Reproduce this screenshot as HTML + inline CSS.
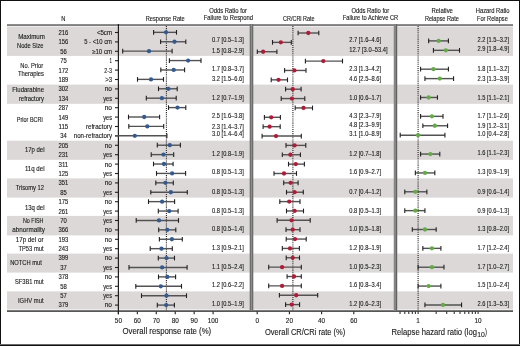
<!DOCTYPE html>
<html><head><meta charset="utf-8"><style>
html,body{margin:0;padding:0;background:#fff;}
body{width:520px;height:346px;overflow:hidden;position:relative;}
svg{position:absolute;left:0;top:0;}
text{font-family:"Liberation Sans",sans-serif;stroke:#1a1a1a;stroke-width:0.12px;}
svg{will-change:transform;}
.frame{position:absolute;left:0;top:0;width:520px;height:346px;box-sizing:border-box;border-style:solid;border-color:#111;border-width:1px 1px 1px 1px;}
</style></head><body>
<svg width="520" height="346" viewBox="0 0 520 346" font-family="Liberation Sans, sans-serif">
<rect width="520" height="346" fill="#fff"/>
<rect x="7.00" y="26.50" width="506.00" height="29.40" fill="#dcd8d8"/>
<rect x="7.00" y="84.60" width="506.00" height="19.20" fill="#dcd8d8"/>
<rect x="7.00" y="140.70" width="506.00" height="19.10" fill="#dcd8d8"/>
<rect x="7.00" y="178.40" width="506.00" height="19.20" fill="#dcd8d8"/>
<rect x="7.00" y="215.90" width="506.00" height="19.50" fill="#dcd8d8"/>
<rect x="7.00" y="253.60" width="506.00" height="19.00" fill="#dcd8d8"/>
<rect x="7.00" y="291.40" width="506.00" height="18.10" fill="#dcd8d8"/>
<rect x="7.00" y="24.20" width="506.00" height="1.70" fill="#707070"/>
<rect x="7.00" y="310.30" width="506.00" height="1.60" fill="#454545"/>
<line x1="118.40" y1="24.00" x2="118.40" y2="314.20" stroke="#231f20" stroke-width="1.2" />
<line x1="115.00" y1="32.50" x2="118.40" y2="32.50" stroke="#231f20" stroke-width="1.1" />
<line x1="115.00" y1="41.90" x2="118.40" y2="41.90" stroke="#231f20" stroke-width="1.1" />
<line x1="115.00" y1="51.30" x2="118.40" y2="51.30" stroke="#231f20" stroke-width="1.1" />
<line x1="115.00" y1="60.70" x2="118.40" y2="60.70" stroke="#231f20" stroke-width="1.1" />
<line x1="115.00" y1="70.10" x2="118.40" y2="70.10" stroke="#231f20" stroke-width="1.1" />
<line x1="115.00" y1="79.50" x2="118.40" y2="79.50" stroke="#231f20" stroke-width="1.1" />
<line x1="115.00" y1="88.90" x2="118.40" y2="88.90" stroke="#231f20" stroke-width="1.1" />
<line x1="115.00" y1="98.30" x2="118.40" y2="98.30" stroke="#231f20" stroke-width="1.1" />
<line x1="115.00" y1="107.70" x2="118.40" y2="107.70" stroke="#231f20" stroke-width="1.1" />
<line x1="115.00" y1="117.10" x2="118.40" y2="117.10" stroke="#231f20" stroke-width="1.1" />
<line x1="115.00" y1="126.50" x2="118.40" y2="126.50" stroke="#231f20" stroke-width="1.1" />
<line x1="115.00" y1="135.90" x2="118.40" y2="135.90" stroke="#231f20" stroke-width="1.1" />
<line x1="115.00" y1="145.30" x2="118.40" y2="145.30" stroke="#231f20" stroke-width="1.1" />
<line x1="115.00" y1="154.70" x2="118.40" y2="154.70" stroke="#231f20" stroke-width="1.1" />
<line x1="115.00" y1="164.10" x2="118.40" y2="164.10" stroke="#231f20" stroke-width="1.1" />
<line x1="115.00" y1="173.50" x2="118.40" y2="173.50" stroke="#231f20" stroke-width="1.1" />
<line x1="115.00" y1="182.90" x2="118.40" y2="182.90" stroke="#231f20" stroke-width="1.1" />
<line x1="115.00" y1="192.30" x2="118.40" y2="192.30" stroke="#231f20" stroke-width="1.1" />
<line x1="115.00" y1="201.70" x2="118.40" y2="201.70" stroke="#231f20" stroke-width="1.1" />
<line x1="115.00" y1="211.10" x2="118.40" y2="211.10" stroke="#231f20" stroke-width="1.1" />
<line x1="115.00" y1="220.50" x2="118.40" y2="220.50" stroke="#231f20" stroke-width="1.1" />
<line x1="115.00" y1="229.90" x2="118.40" y2="229.90" stroke="#231f20" stroke-width="1.1" />
<line x1="115.00" y1="239.30" x2="118.40" y2="239.30" stroke="#231f20" stroke-width="1.1" />
<line x1="115.00" y1="248.70" x2="118.40" y2="248.70" stroke="#231f20" stroke-width="1.1" />
<line x1="115.00" y1="258.10" x2="118.40" y2="258.10" stroke="#231f20" stroke-width="1.1" />
<line x1="115.00" y1="267.50" x2="118.40" y2="267.50" stroke="#231f20" stroke-width="1.1" />
<line x1="115.00" y1="276.90" x2="118.40" y2="276.90" stroke="#231f20" stroke-width="1.1" />
<line x1="115.00" y1="286.30" x2="118.40" y2="286.30" stroke="#231f20" stroke-width="1.1" />
<line x1="115.00" y1="295.70" x2="118.40" y2="295.70" stroke="#231f20" stroke-width="1.1" />
<line x1="115.00" y1="305.10" x2="118.40" y2="305.10" stroke="#231f20" stroke-width="1.1" />
<line x1="118.40" y1="311.50" x2="118.40" y2="314.20" stroke="#231f20" stroke-width="1.1" />
<text x="118.40" y="322.80" font-size="6.4" text-anchor="middle" fill="#1a1a1a">50</text>
<line x1="137.34" y1="311.50" x2="137.34" y2="314.20" stroke="#231f20" stroke-width="1.1" />
<text x="137.34" y="322.80" font-size="6.4" text-anchor="middle" fill="#1a1a1a">60</text>
<line x1="156.28" y1="311.50" x2="156.28" y2="314.20" stroke="#231f20" stroke-width="1.1" />
<text x="156.28" y="322.80" font-size="6.4" text-anchor="middle" fill="#1a1a1a">70</text>
<line x1="175.22" y1="311.50" x2="175.22" y2="314.20" stroke="#231f20" stroke-width="1.1" />
<text x="175.22" y="322.80" font-size="6.4" text-anchor="middle" fill="#1a1a1a">80</text>
<line x1="194.16" y1="311.50" x2="194.16" y2="314.20" stroke="#231f20" stroke-width="1.1" />
<text x="194.16" y="322.80" font-size="6.4" text-anchor="middle" fill="#1a1a1a">90</text>
<line x1="213.10" y1="311.50" x2="213.10" y2="314.20" stroke="#231f20" stroke-width="1.1" />
<text x="213.10" y="322.80" font-size="6.4" text-anchor="middle" fill="#1a1a1a">100</text>
<line x1="257.20" y1="311.50" x2="257.20" y2="314.20" stroke="#231f20" stroke-width="1.1" />
<text x="257.20" y="322.80" font-size="6.4" text-anchor="middle" fill="#1a1a1a">0</text>
<line x1="289.40" y1="311.50" x2="289.40" y2="314.20" stroke="#231f20" stroke-width="1.1" />
<text x="289.40" y="322.80" font-size="6.4" text-anchor="middle" fill="#1a1a1a">20</text>
<line x1="321.60" y1="311.50" x2="321.60" y2="314.20" stroke="#231f20" stroke-width="1.1" />
<text x="321.60" y="322.80" font-size="6.4" text-anchor="middle" fill="#1a1a1a">40</text>
<line x1="353.80" y1="311.50" x2="353.80" y2="314.20" stroke="#231f20" stroke-width="1.1" />
<text x="353.80" y="322.80" font-size="6.4" text-anchor="middle" fill="#1a1a1a">60</text>
<line x1="400.04" y1="311.50" x2="400.04" y2="314.00" stroke="#231f20" stroke-width="1.0" />
<line x1="404.79" y1="311.50" x2="404.79" y2="314.00" stroke="#231f20" stroke-width="1.0" />
<line x1="408.81" y1="311.50" x2="408.81" y2="314.00" stroke="#231f20" stroke-width="1.0" />
<line x1="412.29" y1="311.50" x2="412.29" y2="314.00" stroke="#231f20" stroke-width="1.0" />
<line x1="415.35" y1="311.50" x2="415.35" y2="314.00" stroke="#231f20" stroke-width="1.0" />
<line x1="418.10" y1="311.50" x2="418.10" y2="314.00" stroke="#231f20" stroke-width="1.0" />
<line x1="436.16" y1="311.50" x2="436.16" y2="314.00" stroke="#231f20" stroke-width="1.0" />
<line x1="446.73" y1="311.50" x2="446.73" y2="314.00" stroke="#231f20" stroke-width="1.0" />
<line x1="454.22" y1="311.50" x2="454.22" y2="314.00" stroke="#231f20" stroke-width="1.0" />
<line x1="460.04" y1="311.50" x2="460.04" y2="314.00" stroke="#231f20" stroke-width="1.0" />
<line x1="464.79" y1="311.50" x2="464.79" y2="314.00" stroke="#231f20" stroke-width="1.0" />
<line x1="468.81" y1="311.50" x2="468.81" y2="314.00" stroke="#231f20" stroke-width="1.0" />
<line x1="472.29" y1="311.50" x2="472.29" y2="314.00" stroke="#231f20" stroke-width="1.0" />
<line x1="475.35" y1="311.50" x2="475.35" y2="314.00" stroke="#231f20" stroke-width="1.0" />
<line x1="478.10" y1="311.50" x2="478.10" y2="314.00" stroke="#231f20" stroke-width="1.0" />
<text x="418.10" y="322.80" font-size="6.4" text-anchor="middle" fill="#1a1a1a">1</text>
<text x="478.10" y="322.80" font-size="6.4" text-anchor="middle" fill="#1a1a1a">10</text>
<line x1="166.40" y1="26.00" x2="166.40" y2="310.20" stroke="#231f20" stroke-width="1.1" stroke-dasharray="1.05,1.05"/>
<line x1="292.90" y1="26.00" x2="292.90" y2="310.20" stroke="#231f20" stroke-width="1.1" stroke-dasharray="1.05,1.05"/>
<line x1="418.10" y1="26.00" x2="418.10" y2="310.20" stroke="#231f20" stroke-width="1.1" stroke-dasharray="1.05,1.05"/>
<rect x="249.70" y="24.20" width="3.60" height="286.80" fill="#6c6c6c"/>
<rect x="250.90" y="24.20" width="1.10" height="286.80" fill="#8c8c8c"/>
<rect x="393.75" y="24.20" width="3.55" height="286.80" fill="#858585"/>
<rect x="396.00" y="24.20" width="1.00" height="286.80" fill="#626262"/>
<line x1="153.60" y1="32.35" x2="176.50" y2="32.35" stroke="#525252" stroke-width="1.4" />
<line x1="153.60" y1="30.00" x2="153.60" y2="34.70" stroke="#231f20" stroke-width="1.1" />
<line x1="176.50" y1="30.00" x2="176.50" y2="34.70" stroke="#231f20" stroke-width="1.1" />
<circle cx="166.00" cy="32.35" r="2.15" fill="#345a90"/>
<line x1="160.60" y1="41.76" x2="185.80" y2="41.76" stroke="#525252" stroke-width="1.4" />
<line x1="160.60" y1="39.41" x2="160.60" y2="44.11" stroke="#231f20" stroke-width="1.1" />
<line x1="185.80" y1="39.41" x2="185.80" y2="44.11" stroke="#231f20" stroke-width="1.1" />
<circle cx="174.50" cy="41.76" r="2.15" fill="#345a90"/>
<line x1="122.70" y1="51.16" x2="172.10" y2="51.16" stroke="#525252" stroke-width="1.4" />
<line x1="122.70" y1="48.81" x2="122.70" y2="53.51" stroke="#231f20" stroke-width="1.1" />
<line x1="172.10" y1="48.81" x2="172.10" y2="53.51" stroke="#231f20" stroke-width="1.1" />
<circle cx="149.00" cy="51.16" r="2.15" fill="#345a90"/>
<line x1="169.40" y1="60.56" x2="201.00" y2="60.56" stroke="#525252" stroke-width="1.4" />
<line x1="169.40" y1="58.21" x2="169.40" y2="62.91" stroke="#231f20" stroke-width="1.1" />
<line x1="201.00" y1="58.21" x2="201.00" y2="62.91" stroke="#231f20" stroke-width="1.1" />
<circle cx="188.10" cy="60.56" r="2.15" fill="#345a90"/>
<line x1="160.80" y1="69.97" x2="184.60" y2="69.97" stroke="#525252" stroke-width="1.4" />
<line x1="160.80" y1="67.62" x2="160.80" y2="72.32" stroke="#231f20" stroke-width="1.1" />
<line x1="184.60" y1="67.62" x2="184.60" y2="72.32" stroke="#231f20" stroke-width="1.1" />
<circle cx="173.70" cy="69.97" r="2.15" fill="#345a90"/>
<line x1="137.50" y1="79.38" x2="163.50" y2="79.38" stroke="#525252" stroke-width="1.4" />
<line x1="137.50" y1="77.03" x2="137.50" y2="81.72" stroke="#231f20" stroke-width="1.1" />
<line x1="163.50" y1="77.03" x2="163.50" y2="81.72" stroke="#231f20" stroke-width="1.1" />
<circle cx="151.00" cy="79.38" r="2.15" fill="#345a90"/>
<line x1="158.50" y1="88.78" x2="177.20" y2="88.78" stroke="#525252" stroke-width="1.4" />
<line x1="158.50" y1="86.43" x2="158.50" y2="91.13" stroke="#231f20" stroke-width="1.1" />
<line x1="177.20" y1="86.43" x2="177.20" y2="91.13" stroke="#231f20" stroke-width="1.1" />
<circle cx="168.40" cy="88.78" r="2.15" fill="#345a90"/>
<line x1="146.30" y1="98.19" x2="176.20" y2="98.19" stroke="#525252" stroke-width="1.4" />
<line x1="146.30" y1="95.84" x2="146.30" y2="100.53" stroke="#231f20" stroke-width="1.1" />
<line x1="176.20" y1="95.84" x2="176.20" y2="100.53" stroke="#231f20" stroke-width="1.1" />
<circle cx="161.90" cy="98.19" r="2.15" fill="#345a90"/>
<line x1="168.50" y1="107.59" x2="185.80" y2="107.59" stroke="#525252" stroke-width="1.4" />
<line x1="168.50" y1="105.24" x2="168.50" y2="109.94" stroke="#231f20" stroke-width="1.1" />
<line x1="185.80" y1="105.24" x2="185.80" y2="109.94" stroke="#231f20" stroke-width="1.1" />
<circle cx="177.50" cy="107.59" r="2.15" fill="#345a90"/>
<line x1="128.50" y1="117.00" x2="159.60" y2="117.00" stroke="#525252" stroke-width="1.4" />
<line x1="128.50" y1="114.65" x2="128.50" y2="119.34" stroke="#231f20" stroke-width="1.1" />
<line x1="159.60" y1="114.65" x2="159.60" y2="119.34" stroke="#231f20" stroke-width="1.1" />
<circle cx="144.20" cy="117.00" r="2.15" fill="#345a90"/>
<line x1="128.80" y1="126.40" x2="163.70" y2="126.40" stroke="#525252" stroke-width="1.4" />
<line x1="128.80" y1="124.05" x2="128.80" y2="128.75" stroke="#231f20" stroke-width="1.1" />
<line x1="163.70" y1="124.05" x2="163.70" y2="128.75" stroke="#231f20" stroke-width="1.1" />
<circle cx="147.30" cy="126.40" r="2.15" fill="#345a90"/>
<line x1="115.00" y1="135.81" x2="166.90" y2="135.81" stroke="#525252" stroke-width="1.4" />
<line x1="166.90" y1="133.46" x2="166.90" y2="138.16" stroke="#231f20" stroke-width="1.1" />
<circle cx="134.80" cy="135.81" r="2.15" fill="#345a90"/>
<line x1="157.30" y1="145.21" x2="180.40" y2="145.21" stroke="#525252" stroke-width="1.4" />
<line x1="157.30" y1="142.86" x2="157.30" y2="147.56" stroke="#231f20" stroke-width="1.1" />
<line x1="180.40" y1="142.86" x2="180.40" y2="147.56" stroke="#231f20" stroke-width="1.1" />
<circle cx="169.80" cy="145.21" r="2.15" fill="#345a90"/>
<line x1="151.20" y1="154.61" x2="173.70" y2="154.61" stroke="#525252" stroke-width="1.4" />
<line x1="151.20" y1="152.26" x2="151.20" y2="156.96" stroke="#231f20" stroke-width="1.1" />
<line x1="173.70" y1="152.26" x2="173.70" y2="156.96" stroke="#231f20" stroke-width="1.1" />
<circle cx="163.50" cy="154.61" r="2.15" fill="#345a90"/>
<line x1="153.50" y1="164.02" x2="173.10" y2="164.02" stroke="#525252" stroke-width="1.4" />
<line x1="153.50" y1="161.67" x2="153.50" y2="166.37" stroke="#231f20" stroke-width="1.1" />
<line x1="173.10" y1="161.67" x2="173.10" y2="166.37" stroke="#231f20" stroke-width="1.1" />
<circle cx="164.00" cy="164.02" r="2.15" fill="#345a90"/>
<line x1="156.50" y1="173.42" x2="185.60" y2="173.42" stroke="#525252" stroke-width="1.4" />
<line x1="156.50" y1="171.07" x2="156.50" y2="175.77" stroke="#231f20" stroke-width="1.1" />
<line x1="185.60" y1="171.07" x2="185.60" y2="175.77" stroke="#231f20" stroke-width="1.1" />
<circle cx="172.10" cy="173.42" r="2.15" fill="#345a90"/>
<line x1="155.80" y1="182.83" x2="173.30" y2="182.83" stroke="#525252" stroke-width="1.4" />
<line x1="155.80" y1="180.48" x2="155.80" y2="185.18" stroke="#231f20" stroke-width="1.1" />
<line x1="173.30" y1="180.48" x2="173.30" y2="185.18" stroke="#231f20" stroke-width="1.1" />
<circle cx="165.40" cy="182.83" r="2.15" fill="#345a90"/>
<line x1="150.80" y1="192.23" x2="187.30" y2="192.23" stroke="#525252" stroke-width="1.4" />
<line x1="150.80" y1="189.88" x2="150.80" y2="194.58" stroke="#231f20" stroke-width="1.1" />
<line x1="187.30" y1="189.88" x2="187.30" y2="194.58" stroke="#231f20" stroke-width="1.1" />
<circle cx="170.80" cy="192.23" r="2.15" fill="#345a90"/>
<line x1="148.50" y1="201.64" x2="174.60" y2="201.64" stroke="#525252" stroke-width="1.4" />
<line x1="148.50" y1="199.29" x2="148.50" y2="203.99" stroke="#231f20" stroke-width="1.1" />
<line x1="174.60" y1="199.29" x2="174.60" y2="203.99" stroke="#231f20" stroke-width="1.1" />
<circle cx="162.10" cy="201.64" r="2.15" fill="#345a90"/>
<line x1="158.30" y1="211.04" x2="178.10" y2="211.04" stroke="#525252" stroke-width="1.4" />
<line x1="158.30" y1="208.69" x2="158.30" y2="213.39" stroke="#231f20" stroke-width="1.1" />
<line x1="178.10" y1="208.69" x2="178.10" y2="213.39" stroke="#231f20" stroke-width="1.1" />
<circle cx="169.20" cy="211.04" r="2.15" fill="#345a90"/>
<line x1="136.20" y1="220.45" x2="178.50" y2="220.45" stroke="#525252" stroke-width="1.4" />
<line x1="136.20" y1="218.10" x2="136.20" y2="222.80" stroke="#231f20" stroke-width="1.1" />
<line x1="178.50" y1="218.10" x2="178.50" y2="222.80" stroke="#231f20" stroke-width="1.1" />
<circle cx="159.00" cy="220.45" r="2.15" fill="#345a90"/>
<line x1="158.70" y1="229.85" x2="175.80" y2="229.85" stroke="#525252" stroke-width="1.4" />
<line x1="158.70" y1="227.50" x2="158.70" y2="232.20" stroke="#231f20" stroke-width="1.1" />
<line x1="175.80" y1="227.50" x2="175.80" y2="232.20" stroke="#231f20" stroke-width="1.1" />
<circle cx="167.30" cy="229.85" r="2.15" fill="#345a90"/>
<line x1="159.40" y1="239.26" x2="182.30" y2="239.26" stroke="#525252" stroke-width="1.4" />
<line x1="159.40" y1="236.91" x2="159.40" y2="241.61" stroke="#231f20" stroke-width="1.1" />
<line x1="182.30" y1="236.91" x2="182.30" y2="241.61" stroke="#231f20" stroke-width="1.1" />
<circle cx="171.90" cy="239.26" r="2.15" fill="#345a90"/>
<line x1="150.20" y1="248.66" x2="172.30" y2="248.66" stroke="#525252" stroke-width="1.4" />
<line x1="150.20" y1="246.31" x2="150.20" y2="251.01" stroke="#231f20" stroke-width="1.1" />
<line x1="172.30" y1="246.31" x2="172.30" y2="251.01" stroke="#231f20" stroke-width="1.1" />
<circle cx="161.50" cy="248.66" r="2.15" fill="#345a90"/>
<line x1="158.30" y1="258.07" x2="174.50" y2="258.07" stroke="#525252" stroke-width="1.4" />
<line x1="158.30" y1="255.72" x2="158.30" y2="260.42" stroke="#231f20" stroke-width="1.1" />
<line x1="174.50" y1="255.72" x2="174.50" y2="260.42" stroke="#231f20" stroke-width="1.1" />
<circle cx="166.50" cy="258.07" r="2.15" fill="#345a90"/>
<line x1="129.00" y1="267.47" x2="187.10" y2="267.47" stroke="#525252" stroke-width="1.4" />
<line x1="129.00" y1="265.12" x2="129.00" y2="269.82" stroke="#231f20" stroke-width="1.1" />
<line x1="187.10" y1="265.12" x2="187.10" y2="269.82" stroke="#231f20" stroke-width="1.1" />
<circle cx="162.10" cy="267.47" r="2.15" fill="#345a90"/>
<line x1="158.50" y1="276.88" x2="175.60" y2="276.88" stroke="#525252" stroke-width="1.4" />
<line x1="158.50" y1="274.53" x2="158.50" y2="279.23" stroke="#231f20" stroke-width="1.1" />
<line x1="175.60" y1="274.53" x2="175.60" y2="279.23" stroke="#231f20" stroke-width="1.1" />
<circle cx="167.30" cy="276.88" r="2.15" fill="#345a90"/>
<line x1="135.80" y1="286.28" x2="181.50" y2="286.28" stroke="#525252" stroke-width="1.4" />
<line x1="135.80" y1="283.93" x2="135.80" y2="288.63" stroke="#231f20" stroke-width="1.1" />
<line x1="181.50" y1="283.93" x2="181.50" y2="288.63" stroke="#231f20" stroke-width="1.1" />
<circle cx="160.80" cy="286.28" r="2.15" fill="#345a90"/>
<line x1="141.50" y1="295.69" x2="186.50" y2="295.69" stroke="#525252" stroke-width="1.4" />
<line x1="141.50" y1="293.34" x2="141.50" y2="298.04" stroke="#231f20" stroke-width="1.1" />
<line x1="186.50" y1="293.34" x2="186.50" y2="298.04" stroke="#231f20" stroke-width="1.1" />
<circle cx="166.50" cy="295.69" r="2.15" fill="#345a90"/>
<line x1="157.30" y1="305.10" x2="174.40" y2="305.10" stroke="#525252" stroke-width="1.4" />
<line x1="157.30" y1="302.75" x2="157.30" y2="307.45" stroke="#231f20" stroke-width="1.1" />
<line x1="174.40" y1="302.75" x2="174.40" y2="307.45" stroke="#231f20" stroke-width="1.1" />
<circle cx="166.20" cy="305.10" r="2.15" fill="#345a90"/>
<line x1="298.10" y1="33.00" x2="318.80" y2="33.00" stroke="#525252" stroke-width="1.4" />
<line x1="298.10" y1="30.65" x2="298.10" y2="35.35" stroke="#231f20" stroke-width="1.1" />
<line x1="318.80" y1="30.65" x2="318.80" y2="35.35" stroke="#231f20" stroke-width="1.1" />
<circle cx="308.30" cy="33.00" r="2.15" fill="#b01c36"/>
<line x1="272.50" y1="42.37" x2="291.30" y2="42.37" stroke="#525252" stroke-width="1.4" />
<line x1="272.50" y1="40.02" x2="272.50" y2="44.72" stroke="#231f20" stroke-width="1.1" />
<line x1="291.30" y1="40.02" x2="291.30" y2="44.72" stroke="#231f20" stroke-width="1.1" />
<circle cx="280.80" cy="42.37" r="2.15" fill="#b01c36"/>
<line x1="257.30" y1="51.73" x2="276.90" y2="51.73" stroke="#525252" stroke-width="1.4" />
<line x1="257.30" y1="49.38" x2="257.30" y2="54.08" stroke="#231f20" stroke-width="1.1" />
<line x1="276.90" y1="49.38" x2="276.90" y2="54.08" stroke="#231f20" stroke-width="1.1" />
<circle cx="263.10" cy="51.73" r="2.15" fill="#b01c36"/>
<line x1="305.40" y1="61.10" x2="342.50" y2="61.10" stroke="#525252" stroke-width="1.4" />
<line x1="305.40" y1="58.75" x2="305.40" y2="63.45" stroke="#231f20" stroke-width="1.1" />
<line x1="342.50" y1="58.75" x2="342.50" y2="63.45" stroke="#231f20" stroke-width="1.1" />
<circle cx="323.30" cy="61.10" r="2.15" fill="#b01c36"/>
<line x1="284.60" y1="70.46" x2="306.00" y2="70.46" stroke="#525252" stroke-width="1.4" />
<line x1="284.60" y1="68.11" x2="284.60" y2="72.81" stroke="#231f20" stroke-width="1.1" />
<line x1="306.00" y1="68.11" x2="306.00" y2="72.81" stroke="#231f20" stroke-width="1.1" />
<circle cx="294.40" cy="70.46" r="2.15" fill="#b01c36"/>
<line x1="271.20" y1="79.83" x2="287.50" y2="79.83" stroke="#525252" stroke-width="1.4" />
<line x1="271.20" y1="77.48" x2="271.20" y2="82.18" stroke="#231f20" stroke-width="1.1" />
<line x1="287.50" y1="77.48" x2="287.50" y2="82.18" stroke="#231f20" stroke-width="1.1" />
<circle cx="278.50" cy="79.83" r="2.15" fill="#b01c36"/>
<line x1="285.60" y1="89.20" x2="301.10" y2="89.20" stroke="#525252" stroke-width="1.4" />
<line x1="285.60" y1="86.85" x2="285.60" y2="91.55" stroke="#231f20" stroke-width="1.1" />
<line x1="301.10" y1="86.85" x2="301.10" y2="91.55" stroke="#231f20" stroke-width="1.1" />
<circle cx="292.70" cy="89.20" r="2.15" fill="#b01c36"/>
<line x1="281.20" y1="98.56" x2="304.80" y2="98.56" stroke="#525252" stroke-width="1.4" />
<line x1="281.20" y1="96.21" x2="281.20" y2="100.91" stroke="#231f20" stroke-width="1.1" />
<line x1="304.80" y1="96.21" x2="304.80" y2="100.91" stroke="#231f20" stroke-width="1.1" />
<circle cx="291.90" cy="98.56" r="2.15" fill="#b01c36"/>
<line x1="295.20" y1="107.93" x2="312.50" y2="107.93" stroke="#525252" stroke-width="1.4" />
<line x1="295.20" y1="105.58" x2="295.20" y2="110.28" stroke="#231f20" stroke-width="1.1" />
<line x1="312.50" y1="105.58" x2="312.50" y2="110.28" stroke="#231f20" stroke-width="1.1" />
<circle cx="303.50" cy="107.93" r="2.15" fill="#b01c36"/>
<line x1="264.40" y1="117.29" x2="280.40" y2="117.29" stroke="#525252" stroke-width="1.4" />
<line x1="264.40" y1="114.94" x2="264.40" y2="119.64" stroke="#231f20" stroke-width="1.1" />
<line x1="280.40" y1="114.94" x2="280.40" y2="119.64" stroke="#231f20" stroke-width="1.1" />
<circle cx="271.20" cy="117.29" r="2.15" fill="#b01c36"/>
<line x1="263.10" y1="126.66" x2="280.20" y2="126.66" stroke="#525252" stroke-width="1.4" />
<line x1="263.10" y1="124.31" x2="263.10" y2="129.01" stroke="#231f20" stroke-width="1.1" />
<line x1="280.20" y1="124.31" x2="280.20" y2="129.01" stroke="#231f20" stroke-width="1.1" />
<circle cx="269.60" cy="126.66" r="2.15" fill="#b01c36"/>
<line x1="262.10" y1="136.03" x2="301.30" y2="136.03" stroke="#525252" stroke-width="1.4" />
<line x1="262.10" y1="133.68" x2="262.10" y2="138.38" stroke="#231f20" stroke-width="1.1" />
<line x1="301.30" y1="133.68" x2="301.30" y2="138.38" stroke="#231f20" stroke-width="1.1" />
<circle cx="276.00" cy="136.03" r="2.15" fill="#b01c36"/>
<line x1="286.00" y1="145.39" x2="305.80" y2="145.39" stroke="#525252" stroke-width="1.4" />
<line x1="286.00" y1="143.04" x2="286.00" y2="147.74" stroke="#231f20" stroke-width="1.1" />
<line x1="305.80" y1="143.04" x2="305.80" y2="147.74" stroke="#231f20" stroke-width="1.1" />
<circle cx="294.60" cy="145.39" r="2.15" fill="#b01c36"/>
<line x1="282.30" y1="154.76" x2="300.40" y2="154.76" stroke="#525252" stroke-width="1.4" />
<line x1="282.30" y1="152.41" x2="282.30" y2="157.11" stroke="#231f20" stroke-width="1.1" />
<line x1="300.40" y1="152.41" x2="300.40" y2="157.11" stroke="#231f20" stroke-width="1.1" />
<circle cx="290.40" cy="154.76" r="2.15" fill="#b01c36"/>
<line x1="288.50" y1="164.12" x2="304.40" y2="164.12" stroke="#525252" stroke-width="1.4" />
<line x1="288.50" y1="161.77" x2="288.50" y2="166.47" stroke="#231f20" stroke-width="1.1" />
<line x1="304.40" y1="161.77" x2="304.40" y2="166.47" stroke="#231f20" stroke-width="1.1" />
<circle cx="295.80" cy="164.12" r="2.15" fill="#b01c36"/>
<line x1="274.00" y1="173.49" x2="296.50" y2="173.49" stroke="#525252" stroke-width="1.4" />
<line x1="274.00" y1="171.14" x2="274.00" y2="175.84" stroke="#231f20" stroke-width="1.1" />
<line x1="296.50" y1="171.14" x2="296.50" y2="175.84" stroke="#231f20" stroke-width="1.1" />
<circle cx="284.00" cy="173.49" r="2.15" fill="#b01c36"/>
<line x1="283.70" y1="182.86" x2="298.10" y2="182.86" stroke="#525252" stroke-width="1.4" />
<line x1="283.70" y1="180.51" x2="283.70" y2="185.21" stroke="#231f20" stroke-width="1.1" />
<line x1="298.10" y1="180.51" x2="298.10" y2="185.21" stroke="#231f20" stroke-width="1.1" />
<circle cx="290.60" cy="182.86" r="2.15" fill="#b01c36"/>
<line x1="286.50" y1="192.22" x2="303.30" y2="192.22" stroke="#525252" stroke-width="1.4" />
<line x1="286.50" y1="189.87" x2="286.50" y2="194.57" stroke="#231f20" stroke-width="1.1" />
<line x1="303.30" y1="189.87" x2="303.30" y2="194.57" stroke="#231f20" stroke-width="1.1" />
<circle cx="294.60" cy="192.22" r="2.15" fill="#b01c36"/>
<line x1="279.80" y1="201.59" x2="300.00" y2="201.59" stroke="#525252" stroke-width="1.4" />
<line x1="279.80" y1="199.24" x2="279.80" y2="203.94" stroke="#231f20" stroke-width="1.1" />
<line x1="300.00" y1="199.24" x2="300.00" y2="203.94" stroke="#231f20" stroke-width="1.1" />
<circle cx="289.20" cy="201.59" r="2.15" fill="#b01c36"/>
<line x1="286.50" y1="210.95" x2="303.50" y2="210.95" stroke="#525252" stroke-width="1.4" />
<line x1="286.50" y1="208.60" x2="286.50" y2="213.30" stroke="#231f20" stroke-width="1.1" />
<line x1="303.50" y1="208.60" x2="303.50" y2="213.30" stroke="#231f20" stroke-width="1.1" />
<circle cx="294.60" cy="210.95" r="2.15" fill="#b01c36"/>
<line x1="277.10" y1="220.32" x2="310.20" y2="220.32" stroke="#525252" stroke-width="1.4" />
<line x1="277.10" y1="217.97" x2="277.10" y2="222.67" stroke="#231f20" stroke-width="1.1" />
<line x1="310.20" y1="217.97" x2="310.20" y2="222.67" stroke="#231f20" stroke-width="1.1" />
<circle cx="291.50" cy="220.32" r="2.15" fill="#b01c36"/>
<line x1="286.00" y1="229.69" x2="300.00" y2="229.69" stroke="#525252" stroke-width="1.4" />
<line x1="286.00" y1="227.34" x2="286.00" y2="232.04" stroke="#231f20" stroke-width="1.1" />
<line x1="300.00" y1="227.34" x2="300.00" y2="232.04" stroke="#231f20" stroke-width="1.1" />
<circle cx="292.70" cy="229.69" r="2.15" fill="#b01c36"/>
<line x1="286.20" y1="239.05" x2="306.20" y2="239.05" stroke="#525252" stroke-width="1.4" />
<line x1="286.20" y1="236.70" x2="286.20" y2="241.40" stroke="#231f20" stroke-width="1.1" />
<line x1="306.20" y1="236.70" x2="306.20" y2="241.40" stroke="#231f20" stroke-width="1.1" />
<circle cx="295.00" cy="239.05" r="2.15" fill="#b01c36"/>
<line x1="282.30" y1="248.42" x2="299.40" y2="248.42" stroke="#525252" stroke-width="1.4" />
<line x1="282.30" y1="246.07" x2="282.30" y2="250.77" stroke="#231f20" stroke-width="1.1" />
<line x1="299.40" y1="246.07" x2="299.40" y2="250.77" stroke="#231f20" stroke-width="1.1" />
<circle cx="290.00" cy="248.42" r="2.15" fill="#b01c36"/>
<line x1="286.20" y1="257.78" x2="299.50" y2="257.78" stroke="#525252" stroke-width="1.4" />
<line x1="286.20" y1="255.43" x2="286.20" y2="260.13" stroke="#231f20" stroke-width="1.1" />
<line x1="299.50" y1="255.43" x2="299.50" y2="260.13" stroke="#231f20" stroke-width="1.1" />
<circle cx="292.70" cy="257.78" r="2.15" fill="#b01c36"/>
<line x1="268.70" y1="267.15" x2="301.30" y2="267.15" stroke="#525252" stroke-width="1.4" />
<line x1="268.70" y1="264.80" x2="268.70" y2="269.50" stroke="#231f20" stroke-width="1.1" />
<line x1="301.30" y1="264.80" x2="301.30" y2="269.50" stroke="#231f20" stroke-width="1.1" />
<circle cx="282.10" cy="267.15" r="2.15" fill="#b01c36"/>
<line x1="287.10" y1="276.52" x2="301.30" y2="276.52" stroke="#525252" stroke-width="1.4" />
<line x1="287.10" y1="274.17" x2="287.10" y2="278.87" stroke="#231f20" stroke-width="1.1" />
<line x1="301.30" y1="274.17" x2="301.30" y2="278.87" stroke="#231f20" stroke-width="1.1" />
<circle cx="294.00" cy="276.52" r="2.15" fill="#b01c36"/>
<line x1="268.70" y1="285.88" x2="301.30" y2="285.88" stroke="#525252" stroke-width="1.4" />
<line x1="268.70" y1="283.53" x2="268.70" y2="288.23" stroke="#231f20" stroke-width="1.1" />
<line x1="301.30" y1="283.53" x2="301.30" y2="288.23" stroke="#231f20" stroke-width="1.1" />
<circle cx="282.10" cy="285.88" r="2.15" fill="#b01c36"/>
<line x1="279.40" y1="295.25" x2="317.70" y2="295.25" stroke="#525252" stroke-width="1.4" />
<line x1="279.40" y1="292.90" x2="279.40" y2="297.60" stroke="#231f20" stroke-width="1.1" />
<line x1="317.70" y1="292.90" x2="317.70" y2="297.60" stroke="#231f20" stroke-width="1.1" />
<circle cx="296.20" cy="295.25" r="2.15" fill="#b01c36"/>
<line x1="285.60" y1="304.61" x2="299.60" y2="304.61" stroke="#525252" stroke-width="1.4" />
<line x1="285.60" y1="302.26" x2="285.60" y2="306.96" stroke="#231f20" stroke-width="1.1" />
<line x1="299.60" y1="302.26" x2="299.60" y2="306.96" stroke="#231f20" stroke-width="1.1" />
<circle cx="291.70" cy="304.61" r="2.15" fill="#b01c36"/>
<line x1="428.67" y1="40.90" x2="448.41" y2="40.90" stroke="#525252" stroke-width="1.4" />
<line x1="428.67" y1="38.55" x2="428.67" y2="43.25" stroke="#231f20" stroke-width="1.1" />
<line x1="448.41" y1="38.55" x2="448.41" y2="43.25" stroke="#231f20" stroke-width="1.1" />
<circle cx="438.65" cy="40.90" r="2.15" fill="#63ab45"/>
<line x1="433.42" y1="50.33" x2="459.51" y2="50.33" stroke="#525252" stroke-width="1.4" />
<line x1="433.42" y1="47.98" x2="433.42" y2="52.68" stroke="#231f20" stroke-width="1.1" />
<line x1="459.51" y1="47.98" x2="459.51" y2="52.68" stroke="#231f20" stroke-width="1.1" />
<circle cx="445.84" cy="50.33" r="2.15" fill="#63ab45"/>
<line x1="420.58" y1="69.19" x2="448.41" y2="69.19" stroke="#525252" stroke-width="1.4" />
<line x1="420.58" y1="66.84" x2="420.58" y2="71.54" stroke="#231f20" stroke-width="1.1" />
<line x1="448.41" y1="66.84" x2="448.41" y2="71.54" stroke="#231f20" stroke-width="1.1" />
<circle cx="433.42" cy="69.19" r="2.15" fill="#63ab45"/>
<line x1="424.94" y1="78.62" x2="453.56" y2="78.62" stroke="#525252" stroke-width="1.4" />
<line x1="424.94" y1="76.27" x2="424.94" y2="80.97" stroke="#231f20" stroke-width="1.1" />
<line x1="453.56" y1="76.27" x2="453.56" y2="80.97" stroke="#231f20" stroke-width="1.1" />
<circle cx="439.80" cy="78.62" r="2.15" fill="#63ab45"/>
<line x1="420.58" y1="97.48" x2="437.43" y2="97.48" stroke="#525252" stroke-width="1.4" />
<line x1="420.58" y1="95.13" x2="420.58" y2="99.83" stroke="#231f20" stroke-width="1.1" />
<line x1="437.43" y1="95.13" x2="437.43" y2="99.83" stroke="#231f20" stroke-width="1.1" />
<circle cx="428.67" cy="97.48" r="2.15" fill="#63ab45"/>
<line x1="420.58" y1="116.34" x2="443.00" y2="116.34" stroke="#525252" stroke-width="1.4" />
<line x1="420.58" y1="113.99" x2="420.58" y2="118.69" stroke="#231f20" stroke-width="1.1" />
<line x1="443.00" y1="113.99" x2="443.00" y2="118.69" stroke="#231f20" stroke-width="1.1" />
<circle cx="431.93" cy="116.34" r="2.15" fill="#63ab45"/>
<line x1="422.85" y1="125.77" x2="447.58" y2="125.77" stroke="#525252" stroke-width="1.4" />
<line x1="422.85" y1="123.42" x2="422.85" y2="128.12" stroke="#231f20" stroke-width="1.1" />
<line x1="447.58" y1="123.42" x2="447.58" y2="128.12" stroke="#231f20" stroke-width="1.1" />
<circle cx="434.83" cy="125.77" r="2.15" fill="#63ab45"/>
<line x1="400.20" y1="135.20" x2="444.93" y2="135.20" stroke="#525252" stroke-width="1.4" />
<line x1="400.20" y1="132.85" x2="400.20" y2="137.55" stroke="#231f20" stroke-width="1.1" />
<line x1="444.93" y1="132.85" x2="444.93" y2="137.55" stroke="#231f20" stroke-width="1.1" />
<circle cx="418.10" cy="135.20" r="2.15" fill="#63ab45"/>
<line x1="420.58" y1="154.06" x2="439.80" y2="154.06" stroke="#525252" stroke-width="1.4" />
<line x1="420.58" y1="151.71" x2="420.58" y2="156.41" stroke="#231f20" stroke-width="1.1" />
<line x1="439.80" y1="151.71" x2="439.80" y2="156.41" stroke="#231f20" stroke-width="1.1" />
<circle cx="430.35" cy="154.06" r="2.15" fill="#63ab45"/>
<line x1="415.35" y1="172.92" x2="434.83" y2="172.92" stroke="#525252" stroke-width="1.4" />
<line x1="415.35" y1="170.57" x2="415.35" y2="175.27" stroke="#231f20" stroke-width="1.1" />
<line x1="434.83" y1="170.57" x2="434.83" y2="175.27" stroke="#231f20" stroke-width="1.1" />
<circle cx="424.94" cy="172.92" r="2.15" fill="#63ab45"/>
<line x1="404.79" y1="191.78" x2="426.87" y2="191.78" stroke="#525252" stroke-width="1.4" />
<line x1="404.79" y1="189.43" x2="404.79" y2="194.13" stroke="#231f20" stroke-width="1.1" />
<line x1="426.87" y1="189.43" x2="426.87" y2="194.13" stroke="#231f20" stroke-width="1.1" />
<circle cx="415.35" cy="191.78" r="2.15" fill="#63ab45"/>
<line x1="404.79" y1="210.64" x2="424.94" y2="210.64" stroke="#525252" stroke-width="1.4" />
<line x1="404.79" y1="208.29" x2="404.79" y2="212.99" stroke="#231f20" stroke-width="1.1" />
<line x1="424.94" y1="208.29" x2="424.94" y2="212.99" stroke="#231f20" stroke-width="1.1" />
<circle cx="415.35" cy="210.64" r="2.15" fill="#63ab45"/>
<line x1="412.29" y1="229.50" x2="436.16" y2="229.50" stroke="#525252" stroke-width="1.4" />
<line x1="412.29" y1="227.15" x2="412.29" y2="231.85" stroke="#231f20" stroke-width="1.1" />
<line x1="436.16" y1="227.15" x2="436.16" y2="231.85" stroke="#231f20" stroke-width="1.1" />
<circle cx="424.94" cy="229.50" r="2.15" fill="#63ab45"/>
<line x1="422.85" y1="248.36" x2="440.91" y2="248.36" stroke="#525252" stroke-width="1.4" />
<line x1="422.85" y1="246.01" x2="422.85" y2="250.71" stroke="#231f20" stroke-width="1.1" />
<line x1="440.91" y1="246.01" x2="440.91" y2="250.71" stroke="#231f20" stroke-width="1.1" />
<circle cx="431.93" cy="248.36" r="2.15" fill="#63ab45"/>
<line x1="418.10" y1="267.22" x2="443.98" y2="267.22" stroke="#525252" stroke-width="1.4" />
<line x1="418.10" y1="264.87" x2="418.10" y2="269.57" stroke="#231f20" stroke-width="1.1" />
<line x1="443.98" y1="264.87" x2="443.98" y2="269.57" stroke="#231f20" stroke-width="1.1" />
<circle cx="431.93" cy="267.22" r="2.15" fill="#63ab45"/>
<line x1="418.10" y1="286.08" x2="440.91" y2="286.08" stroke="#525252" stroke-width="1.4" />
<line x1="418.10" y1="283.73" x2="418.10" y2="288.43" stroke="#231f20" stroke-width="1.1" />
<line x1="440.91" y1="283.73" x2="440.91" y2="288.43" stroke="#231f20" stroke-width="1.1" />
<circle cx="428.67" cy="286.08" r="2.15" fill="#63ab45"/>
<line x1="424.94" y1="304.94" x2="461.56" y2="304.94" stroke="#525252" stroke-width="1.4" />
<line x1="424.94" y1="302.59" x2="424.94" y2="307.29" stroke="#231f20" stroke-width="1.1" />
<line x1="461.56" y1="302.59" x2="461.56" y2="307.29" stroke="#231f20" stroke-width="1.1" />
<circle cx="443.00" cy="304.94" r="2.15" fill="#63ab45"/>
<text x="58.49" y="35.10" font-size="6.4" text-anchor="start" fill="#1a1a1a" textLength="9.81" lengthAdjust="spacingAndGlyphs">216</text>
<text x="96.90" y="35.10" font-size="6.4" text-anchor="start" fill="#1a1a1a" textLength="15.10" lengthAdjust="spacingAndGlyphs">&lt;5cm</text>
<text x="58.49" y="44.49" font-size="6.4" text-anchor="start" fill="#1a1a1a" textLength="9.81" lengthAdjust="spacingAndGlyphs">156</text>
<text x="84.20" y="44.49" font-size="6.4" text-anchor="start" fill="#1a1a1a" textLength="27.80" lengthAdjust="spacingAndGlyphs">5 - &lt;10 cm</text>
<text x="60.13" y="53.88" font-size="6.4" text-anchor="start" fill="#1a1a1a" textLength="6.54" lengthAdjust="spacingAndGlyphs">56</text>
<text x="92.20" y="53.88" font-size="6.4" text-anchor="start" fill="#1a1a1a" textLength="19.80" lengthAdjust="spacingAndGlyphs">≥10 cm</text>
<text x="60.13" y="63.27" font-size="6.4" text-anchor="start" fill="#1a1a1a" textLength="6.54" lengthAdjust="spacingAndGlyphs">75</text>
<text x="109.50" y="63.27" font-size="6.4" text-anchor="start" fill="#1a1a1a" textLength="2.50" lengthAdjust="spacingAndGlyphs">1</text>
<text x="58.49" y="72.66" font-size="6.4" text-anchor="start" fill="#1a1a1a" textLength="9.81" lengthAdjust="spacingAndGlyphs">172</text>
<text x="104.30" y="72.66" font-size="6.4" text-anchor="start" fill="#1a1a1a" textLength="7.70" lengthAdjust="spacingAndGlyphs">2-3</text>
<text x="58.49" y="82.05" font-size="6.4" text-anchor="start" fill="#1a1a1a" textLength="9.81" lengthAdjust="spacingAndGlyphs">189</text>
<text x="105.20" y="82.05" font-size="6.4" text-anchor="start" fill="#1a1a1a" textLength="6.80" lengthAdjust="spacingAndGlyphs">&gt;3</text>
<text x="58.49" y="91.44" font-size="6.4" text-anchor="start" fill="#1a1a1a" textLength="9.81" lengthAdjust="spacingAndGlyphs">302</text>
<text x="104.70" y="91.44" font-size="6.4" text-anchor="start" fill="#1a1a1a" textLength="7.30" lengthAdjust="spacingAndGlyphs">no</text>
<text x="58.49" y="100.83" font-size="6.4" text-anchor="start" fill="#1a1a1a" textLength="9.81" lengthAdjust="spacingAndGlyphs">134</text>
<text x="103.30" y="100.83" font-size="6.4" text-anchor="start" fill="#1a1a1a" textLength="8.70" lengthAdjust="spacingAndGlyphs">yes</text>
<text x="58.49" y="110.22" font-size="6.4" text-anchor="start" fill="#1a1a1a" textLength="9.81" lengthAdjust="spacingAndGlyphs">287</text>
<text x="104.70" y="110.22" font-size="6.4" text-anchor="start" fill="#1a1a1a" textLength="7.30" lengthAdjust="spacingAndGlyphs">no</text>
<text x="58.49" y="119.61" font-size="6.4" text-anchor="start" fill="#1a1a1a" textLength="9.81" lengthAdjust="spacingAndGlyphs">149</text>
<text x="103.30" y="119.61" font-size="6.4" text-anchor="start" fill="#1a1a1a" textLength="8.70" lengthAdjust="spacingAndGlyphs">yes</text>
<text x="58.49" y="129.00" font-size="6.4" text-anchor="start" fill="#1a1a1a" textLength="9.81" lengthAdjust="spacingAndGlyphs">115</text>
<text x="85.90" y="129.00" font-size="6.4" text-anchor="start" fill="#1a1a1a" textLength="26.10" lengthAdjust="spacingAndGlyphs">refractory</text>
<text x="60.13" y="138.39" font-size="6.4" text-anchor="start" fill="#1a1a1a" textLength="6.54" lengthAdjust="spacingAndGlyphs">34</text>
<text x="73.80" y="138.39" font-size="6.4" text-anchor="start" fill="#1a1a1a" textLength="38.20" lengthAdjust="spacingAndGlyphs">non-refractory</text>
<text x="58.49" y="147.78" font-size="6.4" text-anchor="start" fill="#1a1a1a" textLength="9.81" lengthAdjust="spacingAndGlyphs">205</text>
<text x="104.70" y="147.78" font-size="6.4" text-anchor="start" fill="#1a1a1a" textLength="7.30" lengthAdjust="spacingAndGlyphs">no</text>
<text x="58.49" y="157.17" font-size="6.4" text-anchor="start" fill="#1a1a1a" textLength="9.81" lengthAdjust="spacingAndGlyphs">231</text>
<text x="103.30" y="157.17" font-size="6.4" text-anchor="start" fill="#1a1a1a" textLength="8.70" lengthAdjust="spacingAndGlyphs">yes</text>
<text x="58.49" y="166.56" font-size="6.4" text-anchor="start" fill="#1a1a1a" textLength="9.81" lengthAdjust="spacingAndGlyphs">311</text>
<text x="104.70" y="166.56" font-size="6.4" text-anchor="start" fill="#1a1a1a" textLength="7.30" lengthAdjust="spacingAndGlyphs">no</text>
<text x="58.49" y="175.95" font-size="6.4" text-anchor="start" fill="#1a1a1a" textLength="9.81" lengthAdjust="spacingAndGlyphs">125</text>
<text x="103.30" y="175.95" font-size="6.4" text-anchor="start" fill="#1a1a1a" textLength="8.70" lengthAdjust="spacingAndGlyphs">yes</text>
<text x="58.49" y="185.34" font-size="6.4" text-anchor="start" fill="#1a1a1a" textLength="9.81" lengthAdjust="spacingAndGlyphs">351</text>
<text x="104.70" y="185.34" font-size="6.4" text-anchor="start" fill="#1a1a1a" textLength="7.30" lengthAdjust="spacingAndGlyphs">no</text>
<text x="60.13" y="194.73" font-size="6.4" text-anchor="start" fill="#1a1a1a" textLength="6.54" lengthAdjust="spacingAndGlyphs">85</text>
<text x="103.30" y="194.73" font-size="6.4" text-anchor="start" fill="#1a1a1a" textLength="8.70" lengthAdjust="spacingAndGlyphs">yes</text>
<text x="58.49" y="204.12" font-size="6.4" text-anchor="start" fill="#1a1a1a" textLength="9.81" lengthAdjust="spacingAndGlyphs">175</text>
<text x="104.70" y="204.12" font-size="6.4" text-anchor="start" fill="#1a1a1a" textLength="7.30" lengthAdjust="spacingAndGlyphs">no</text>
<text x="58.49" y="213.51" font-size="6.4" text-anchor="start" fill="#1a1a1a" textLength="9.81" lengthAdjust="spacingAndGlyphs">261</text>
<text x="103.30" y="213.51" font-size="6.4" text-anchor="start" fill="#1a1a1a" textLength="8.70" lengthAdjust="spacingAndGlyphs">yes</text>
<text x="60.13" y="222.90" font-size="6.4" text-anchor="start" fill="#1a1a1a" textLength="6.54" lengthAdjust="spacingAndGlyphs">70</text>
<text x="103.30" y="222.90" font-size="6.4" text-anchor="start" fill="#1a1a1a" textLength="8.70" lengthAdjust="spacingAndGlyphs">yes</text>
<text x="58.49" y="232.29" font-size="6.4" text-anchor="start" fill="#1a1a1a" textLength="9.81" lengthAdjust="spacingAndGlyphs">366</text>
<text x="104.70" y="232.29" font-size="6.4" text-anchor="start" fill="#1a1a1a" textLength="7.30" lengthAdjust="spacingAndGlyphs">no</text>
<text x="58.49" y="241.68" font-size="6.4" text-anchor="start" fill="#1a1a1a" textLength="9.81" lengthAdjust="spacingAndGlyphs">193</text>
<text x="104.70" y="241.68" font-size="6.4" text-anchor="start" fill="#1a1a1a" textLength="7.30" lengthAdjust="spacingAndGlyphs">no</text>
<text x="58.49" y="251.07" font-size="6.4" text-anchor="start" fill="#1a1a1a" textLength="9.81" lengthAdjust="spacingAndGlyphs">243</text>
<text x="103.30" y="251.07" font-size="6.4" text-anchor="start" fill="#1a1a1a" textLength="8.70" lengthAdjust="spacingAndGlyphs">yes</text>
<text x="58.49" y="260.46" font-size="6.4" text-anchor="start" fill="#1a1a1a" textLength="9.81" lengthAdjust="spacingAndGlyphs">399</text>
<text x="104.70" y="260.46" font-size="6.4" text-anchor="start" fill="#1a1a1a" textLength="7.30" lengthAdjust="spacingAndGlyphs">no</text>
<text x="60.13" y="269.85" font-size="6.4" text-anchor="start" fill="#1a1a1a" textLength="6.54" lengthAdjust="spacingAndGlyphs">37</text>
<text x="103.30" y="269.85" font-size="6.4" text-anchor="start" fill="#1a1a1a" textLength="8.70" lengthAdjust="spacingAndGlyphs">yes</text>
<text x="58.49" y="279.24" font-size="6.4" text-anchor="start" fill="#1a1a1a" textLength="9.81" lengthAdjust="spacingAndGlyphs">378</text>
<text x="104.70" y="279.24" font-size="6.4" text-anchor="start" fill="#1a1a1a" textLength="7.30" lengthAdjust="spacingAndGlyphs">no</text>
<text x="60.13" y="288.63" font-size="6.4" text-anchor="start" fill="#1a1a1a" textLength="6.54" lengthAdjust="spacingAndGlyphs">58</text>
<text x="103.30" y="288.63" font-size="6.4" text-anchor="start" fill="#1a1a1a" textLength="8.70" lengthAdjust="spacingAndGlyphs">yes</text>
<text x="60.13" y="298.02" font-size="6.4" text-anchor="start" fill="#1a1a1a" textLength="6.54" lengthAdjust="spacingAndGlyphs">57</text>
<text x="103.30" y="298.02" font-size="6.4" text-anchor="start" fill="#1a1a1a" textLength="8.70" lengthAdjust="spacingAndGlyphs">yes</text>
<text x="58.49" y="307.41" font-size="6.4" text-anchor="start" fill="#1a1a1a" textLength="9.81" lengthAdjust="spacingAndGlyphs">379</text>
<text x="104.70" y="307.41" font-size="6.4" text-anchor="start" fill="#1a1a1a" textLength="7.30" lengthAdjust="spacingAndGlyphs">no</text>
<text x="18.20" y="39.40" font-size="6.4" text-anchor="start" fill="#1a1a1a" textLength="26.70" lengthAdjust="spacingAndGlyphs">Maximum</text>
<text x="17.00" y="48.00" font-size="6.4" text-anchor="start" fill="#1a1a1a" textLength="26.50" lengthAdjust="spacingAndGlyphs">Node Size</text>
<text x="20.30" y="67.70" font-size="6.4" text-anchor="start" fill="#1a1a1a" textLength="22.80" lengthAdjust="spacingAndGlyphs">No. Prior</text>
<text x="18.00" y="76.40" font-size="6.4" text-anchor="start" fill="#1a1a1a" textLength="26.00" lengthAdjust="spacingAndGlyphs">Therapies</text>
<text x="12.30" y="91.80" font-size="6.4" text-anchor="start" fill="#1a1a1a" textLength="31.70" lengthAdjust="spacingAndGlyphs">Fludarabine</text>
<text x="18.90" y="101.10" font-size="6.4" text-anchor="start" fill="#1a1a1a" textLength="25.10" lengthAdjust="spacingAndGlyphs">refractory</text>
<text x="16.80" y="121.70" font-size="6.4" text-anchor="start" fill="#1a1a1a" textLength="26.00" lengthAdjust="spacingAndGlyphs">Prior BCRi</text>
<text x="24.90" y="152.40" font-size="6.4" text-anchor="start" fill="#1a1a1a" textLength="19.60" lengthAdjust="spacingAndGlyphs">17p del</text>
<text x="24.90" y="170.70" font-size="6.4" text-anchor="start" fill="#1a1a1a" textLength="19.60" lengthAdjust="spacingAndGlyphs">11q del</text>
<text x="15.70" y="189.60" font-size="6.4" text-anchor="start" fill="#1a1a1a" textLength="28.30" lengthAdjust="spacingAndGlyphs">Trisomy 12</text>
<text x="24.90" y="209.60" font-size="6.4" text-anchor="start" fill="#1a1a1a" textLength="19.60" lengthAdjust="spacingAndGlyphs">13q del</text>
<text x="22.90" y="223.10" font-size="6.4" text-anchor="start" fill="#1a1a1a" textLength="20.60" lengthAdjust="spacingAndGlyphs">No FISH</text>
<text x="12.30" y="231.60" font-size="6.4" text-anchor="start" fill="#1a1a1a" textLength="32.60" lengthAdjust="spacingAndGlyphs">abnormality</text>
<text x="15.70" y="242.20" font-size="6.4" text-anchor="start" fill="#1a1a1a" textLength="27.80" lengthAdjust="spacingAndGlyphs">17p del or</text>
<text x="18.50" y="250.90" font-size="6.4" text-anchor="start" fill="#1a1a1a" textLength="25.00" lengthAdjust="spacingAndGlyphs">TP53 mut</text>
<text x="10.20" y="265.20" font-size="6.4" text-anchor="start" fill="#1a1a1a" textLength="31.70" lengthAdjust="spacingAndGlyphs">NOTCH mut</text>
<text x="14.90" y="284.30" font-size="6.4" text-anchor="start" fill="#1a1a1a" textLength="28.60" lengthAdjust="spacingAndGlyphs">SF3B1 mut</text>
<text x="18.00" y="302.50" font-size="6.4" text-anchor="start" fill="#1a1a1a" textLength="25.50" lengthAdjust="spacingAndGlyphs">IGHV mut</text>
<text x="61.20" y="21.40" font-size="6.4" text-anchor="start" fill="#1a1a1a" textLength="4.20" lengthAdjust="spacingAndGlyphs">N</text>
<text x="145.70" y="21.40" font-size="6.4" text-anchor="start" fill="#1a1a1a" textLength="39.10" lengthAdjust="spacingAndGlyphs">Response Rate</text>
<text x="209.20" y="12.70" font-size="6.4" text-anchor="start" fill="#1a1a1a" textLength="37.80" lengthAdjust="spacingAndGlyphs">Odds Ratio for</text>
<text x="203.80" y="20.20" font-size="6.4" text-anchor="start" fill="#1a1a1a" textLength="49.20" lengthAdjust="spacingAndGlyphs">Failure to Respond</text>
<text x="283.10" y="21.10" font-size="6.4" text-anchor="start" fill="#1a1a1a" textLength="31.50" lengthAdjust="spacingAndGlyphs">CR/CRi Rate</text>
<text x="351.50" y="12.50" font-size="6.4" text-anchor="start" fill="#1a1a1a" textLength="37.70" lengthAdjust="spacingAndGlyphs">Odds Ratio for</text>
<text x="342.80" y="19.90" font-size="6.4" text-anchor="start" fill="#1a1a1a" textLength="55.40" lengthAdjust="spacingAndGlyphs">Failure to Achieve CR</text>
<text x="431.50" y="12.70" font-size="6.4" text-anchor="start" fill="#1a1a1a" textLength="21.40" lengthAdjust="spacingAndGlyphs">Relative</text>
<text x="424.90" y="20.60" font-size="6.4" text-anchor="start" fill="#1a1a1a" textLength="34.00" lengthAdjust="spacingAndGlyphs">Relapse Rate</text>
<text x="475.80" y="12.70" font-size="6.4" text-anchor="start" fill="#1a1a1a" textLength="33.80" lengthAdjust="spacingAndGlyphs">Hazard Ratio</text>
<text x="477.00" y="20.60" font-size="6.4" text-anchor="start" fill="#1a1a1a" textLength="30.80" lengthAdjust="spacingAndGlyphs">For Relapse</text>
<text x="212.10" y="42.49" font-size="6.4" text-anchor="start" fill="#1a1a1a" textLength="31.70" lengthAdjust="spacingAndGlyphs">0.7 [0.5–1.3]</text>
<text x="212.10" y="52.58" font-size="6.4" text-anchor="start" fill="#1a1a1a" textLength="31.70" lengthAdjust="spacingAndGlyphs">1.5 [0.8–2.9]</text>
<text x="212.10" y="70.66" font-size="6.4" text-anchor="start" fill="#1a1a1a" textLength="31.70" lengthAdjust="spacingAndGlyphs">1.7 [0.8–3.7]</text>
<text x="212.10" y="80.50" font-size="6.4" text-anchor="start" fill="#1a1a1a" textLength="31.70" lengthAdjust="spacingAndGlyphs">3.2 [1.5–6.6]</text>
<text x="212.10" y="99.53" font-size="6.4" text-anchor="start" fill="#1a1a1a" textLength="31.70" lengthAdjust="spacingAndGlyphs">1.2 [0.7–1.9]</text>
<text x="212.10" y="117.81" font-size="6.4" text-anchor="start" fill="#1a1a1a" textLength="31.70" lengthAdjust="spacingAndGlyphs">2.5 [1.6–3.8]</text>
<text x="212.10" y="128.60" font-size="6.4" text-anchor="start" fill="#1a1a1a" textLength="31.70" lengthAdjust="spacingAndGlyphs">2.3 [1.4–3.7]</text>
<text x="212.10" y="136.29" font-size="6.4" text-anchor="start" fill="#1a1a1a" textLength="31.70" lengthAdjust="spacingAndGlyphs">3.0 [1.4–6.4]</text>
<text x="212.10" y="155.57" font-size="6.4" text-anchor="start" fill="#1a1a1a" textLength="31.70" lengthAdjust="spacingAndGlyphs">1.2 [0.8–1.9]</text>
<text x="212.10" y="174.15" font-size="6.4" text-anchor="start" fill="#1a1a1a" textLength="31.70" lengthAdjust="spacingAndGlyphs">0.8 [0.5–1.3]</text>
<text x="212.10" y="193.53" font-size="6.4" text-anchor="start" fill="#1a1a1a" textLength="31.70" lengthAdjust="spacingAndGlyphs">0.8 [0.5–1.3]</text>
<text x="212.10" y="212.51" font-size="6.4" text-anchor="start" fill="#1a1a1a" textLength="31.70" lengthAdjust="spacingAndGlyphs">0.8 [0.5–1.3]</text>
<text x="212.10" y="231.29" font-size="6.4" text-anchor="start" fill="#1a1a1a" textLength="31.70" lengthAdjust="spacingAndGlyphs">0.8 [0.5–1.4]</text>
<text x="212.10" y="249.67" font-size="6.4" text-anchor="start" fill="#1a1a1a" textLength="31.70" lengthAdjust="spacingAndGlyphs">1.3 [0.9–2.1]</text>
<text x="212.10" y="268.65" font-size="6.4" text-anchor="start" fill="#1a1a1a" textLength="31.70" lengthAdjust="spacingAndGlyphs">1.1 [0.5–2.4]</text>
<text x="212.10" y="287.43" font-size="6.4" text-anchor="start" fill="#1a1a1a" textLength="31.70" lengthAdjust="spacingAndGlyphs">1.2 [0.6–2.2]</text>
<text x="212.10" y="306.41" font-size="6.4" text-anchor="start" fill="#1a1a1a" textLength="31.70" lengthAdjust="spacingAndGlyphs">1.0 [0.5–1.9]</text>
<text x="349.20" y="42.49" font-size="6.4" text-anchor="start" fill="#1a1a1a" textLength="31.90" lengthAdjust="spacingAndGlyphs">2.7 [1.6–4.6]</text>
<text x="349.20" y="52.48" font-size="6.4" text-anchor="start" fill="#1a1a1a" textLength="38.50" lengthAdjust="spacingAndGlyphs">12.7 [3.0–53.4]</text>
<text x="349.20" y="71.06" font-size="6.4" text-anchor="start" fill="#1a1a1a" textLength="31.90" lengthAdjust="spacingAndGlyphs">2.3 [1.3–4.2]</text>
<text x="349.20" y="80.50" font-size="6.4" text-anchor="start" fill="#1a1a1a" textLength="31.90" lengthAdjust="spacingAndGlyphs">4.6 [2.5–8.6]</text>
<text x="349.20" y="99.53" font-size="6.4" text-anchor="start" fill="#1a1a1a" textLength="31.90" lengthAdjust="spacingAndGlyphs">1.0 [0.6–1.7]</text>
<text x="349.20" y="118.11" font-size="6.4" text-anchor="start" fill="#1a1a1a" textLength="31.90" lengthAdjust="spacingAndGlyphs">4.3 [2.3–7.9]</text>
<text x="349.20" y="127.40" font-size="6.4" text-anchor="start" fill="#1a1a1a" textLength="31.90" lengthAdjust="spacingAndGlyphs">4.8 [2.3–9.9]</text>
<text x="349.20" y="136.29" font-size="6.4" text-anchor="start" fill="#1a1a1a" textLength="31.90" lengthAdjust="spacingAndGlyphs">3.1 [1.0–8.9]</text>
<text x="349.20" y="155.57" font-size="6.4" text-anchor="start" fill="#1a1a1a" textLength="31.90" lengthAdjust="spacingAndGlyphs">1.2 [0.7–1.8]</text>
<text x="349.20" y="174.15" font-size="6.4" text-anchor="start" fill="#1a1a1a" textLength="31.90" lengthAdjust="spacingAndGlyphs">1.6 [0.9–2.7]</text>
<text x="349.20" y="193.53" font-size="6.4" text-anchor="start" fill="#1a1a1a" textLength="31.90" lengthAdjust="spacingAndGlyphs">0.7 [0.4–1.2]</text>
<text x="349.20" y="212.51" font-size="6.4" text-anchor="start" fill="#1a1a1a" textLength="31.90" lengthAdjust="spacingAndGlyphs">0.8 [0.5–1.3]</text>
<text x="349.20" y="231.29" font-size="6.4" text-anchor="start" fill="#1a1a1a" textLength="31.90" lengthAdjust="spacingAndGlyphs">1.0 [0.5–1.8]</text>
<text x="349.20" y="249.67" font-size="6.4" text-anchor="start" fill="#1a1a1a" textLength="31.90" lengthAdjust="spacingAndGlyphs">1.2 [0.8–1.9]</text>
<text x="349.20" y="268.65" font-size="6.4" text-anchor="start" fill="#1a1a1a" textLength="31.90" lengthAdjust="spacingAndGlyphs">1.0 [0.5–2.3]</text>
<text x="349.20" y="287.33" font-size="6.4" text-anchor="start" fill="#1a1a1a" textLength="31.90" lengthAdjust="spacingAndGlyphs">1.6 [0.8–3.4]</text>
<text x="349.20" y="306.11" font-size="6.4" text-anchor="start" fill="#1a1a1a" textLength="31.90" lengthAdjust="spacingAndGlyphs">1.2 [0.6–2.3]</text>
<text x="477.60" y="41.69" font-size="6.4" text-anchor="start" fill="#1a1a1a" textLength="31.50" lengthAdjust="spacingAndGlyphs">2.2 [1.5–3.2]</text>
<text x="477.60" y="51.48" font-size="6.4" text-anchor="start" fill="#1a1a1a" textLength="31.50" lengthAdjust="spacingAndGlyphs">2.9 [1.8–4.9]</text>
<text x="477.60" y="71.16" font-size="6.4" text-anchor="start" fill="#1a1a1a" textLength="31.50" lengthAdjust="spacingAndGlyphs">1.8 [1.1–3.2]</text>
<text x="477.60" y="80.50" font-size="6.4" text-anchor="start" fill="#1a1a1a" textLength="31.50" lengthAdjust="spacingAndGlyphs">2.3 [1.3–3.9]</text>
<text x="477.60" y="99.83" font-size="6.4" text-anchor="start" fill="#1a1a1a" textLength="31.50" lengthAdjust="spacingAndGlyphs">1.5 [1.1–2.1]</text>
<text x="477.60" y="118.11" font-size="6.4" text-anchor="start" fill="#1a1a1a" textLength="31.50" lengthAdjust="spacingAndGlyphs">1.7 [1.1–2.6]</text>
<text x="477.60" y="127.50" font-size="6.4" text-anchor="start" fill="#1a1a1a" textLength="31.50" lengthAdjust="spacingAndGlyphs">1.9 [1.2–3.1]</text>
<text x="477.60" y="136.49" font-size="6.4" text-anchor="start" fill="#1a1a1a" textLength="31.50" lengthAdjust="spacingAndGlyphs">1.0 [0.4–2.8]</text>
<text x="477.60" y="155.47" font-size="6.4" text-anchor="start" fill="#1a1a1a" textLength="31.50" lengthAdjust="spacingAndGlyphs">1.6 [1.1–2.3]</text>
<text x="477.60" y="173.80" font-size="6.4" text-anchor="start" fill="#1a1a1a" textLength="31.50" lengthAdjust="spacingAndGlyphs">1.3 [0.9–1.9]</text>
<text x="477.60" y="193.63" font-size="6.4" text-anchor="start" fill="#1a1a1a" textLength="31.50" lengthAdjust="spacingAndGlyphs">0.9 [0.6–1.4]</text>
<text x="477.60" y="212.71" font-size="6.4" text-anchor="start" fill="#1a1a1a" textLength="31.50" lengthAdjust="spacingAndGlyphs">0.9 [0.6–1.3]</text>
<text x="477.60" y="231.49" font-size="6.4" text-anchor="start" fill="#1a1a1a" textLength="31.50" lengthAdjust="spacingAndGlyphs">1.3 [0.8–2.0]</text>
<text x="477.60" y="249.67" font-size="6.4" text-anchor="start" fill="#1a1a1a" textLength="31.50" lengthAdjust="spacingAndGlyphs">1.7 [1.2–2.4]</text>
<text x="477.60" y="268.70" font-size="6.4" text-anchor="start" fill="#1a1a1a" textLength="31.50" lengthAdjust="spacingAndGlyphs">1.7 [1.0–2.7]</text>
<text x="477.60" y="287.33" font-size="6.4" text-anchor="start" fill="#1a1a1a" textLength="31.50" lengthAdjust="spacingAndGlyphs">1.5 [1.0–2.4]</text>
<text x="477.60" y="306.11" font-size="6.4" text-anchor="start" fill="#1a1a1a" textLength="31.50" lengthAdjust="spacingAndGlyphs">2.6 [1.3–5.3]</text>
<text x="122.50" y="334.40" font-size="8.6" text-anchor="start" fill="#1a1a1a" textLength="88.70" lengthAdjust="spacingAndGlyphs">Overall response rate (%)</text>
<text x="265.00" y="334.50" font-size="8.6" text-anchor="start" fill="#1a1a1a" textLength="80.20" lengthAdjust="spacingAndGlyphs">Overall CR/CRi rate (%)</text>
<text x="391.60" y="334.50" font-size="8.6" text-anchor="start" fill="#1a1a1a" textLength="85.40" lengthAdjust="spacingAndGlyphs">Relapse hazard ratio (log</text>
<text x="477.30" y="336.60" font-size="6.6" text-anchor="start" fill="#1a1a1a" textLength="7.60" lengthAdjust="spacingAndGlyphs">10</text>
<text x="485.00" y="334.50" font-size="8.6" text-anchor="start" fill="#1a1a1a" textLength="1.90" lengthAdjust="spacingAndGlyphs">)</text>
</svg>
<div class="frame"></div><div style="position:absolute;left:0;top:344px;width:520px;height:1px;background:#6a6a6a"></div>
</body></html>
